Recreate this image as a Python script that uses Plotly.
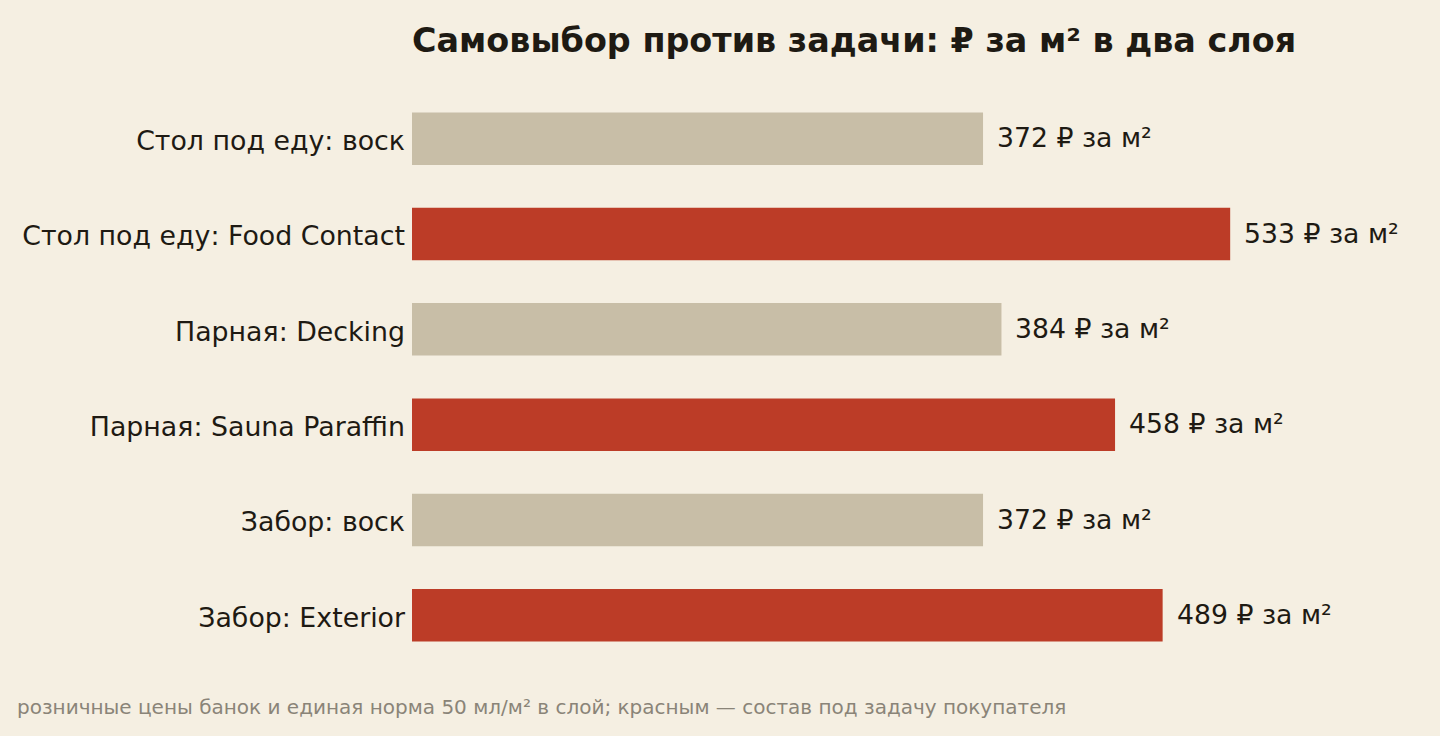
import plotly.graph_objects as go

categories = [
    "Стол под еду: воск",
    "Стол под еду: Food Contact",
    "Парная: Decking",
    "Парная: Sauna Paraffin",
    "Забор: воск",
    "Забор: Exterior",
]
prices = [372, 533, 384, 458, 372, 489]
is_task = [False, True, False, True, False, True]

title = "Самовыбор против задачи: ₽ за м² в два слоя"
note = "розничные цены банок и единая норма 50 мл/м² в слой; красным — состав под задачу покупателя"

BG = "#F5EFE2"
BEIGE = "#C8BEA7"
RED = "#BC3C27"
INK = "#1E1A13"
GREY = "#8A8478"
FONT = "DejaVu Sans"

W, H = 1440, 736
ML, MR, MT, MB = 412, 20, 91, 73
plot_w = W - ML - MR
plot_h = H - MT - MB

fig = go.Figure()
fig.add_trace(
    go.Bar(
        x=prices,
        y=categories,
        orientation="h",
        width=0.55,
        marker=dict(color=[RED if t else BEIGE for t in is_task], line=dict(width=0)),
        hoverinfo="skip",
    )
)

for cat, val in zip(categories, prices):
    fig.add_annotation(
        x=val, y=cat, text=f"{val} ₽ за м²", showarrow=False,
        xanchor="left", yanchor="middle", xshift=12, yshift=1,
        font=dict(family=FONT, size=26.7, color=INK),
    )

fig.add_annotation(
    x=(15 - ML) / plot_w, y=(-(707 - (MT + plot_h))) / plot_h,
    xref="paper", yref="paper", text=note, showarrow=False,
    xanchor="left", yanchor="middle",
    font=dict(family=FONT, size=20, color=GREY),
)

fig.update_layout(
    width=W, height=H,
    paper_bgcolor=BG, plot_bgcolor=BG,
    margin=dict(l=ML, r=MR, t=MT, b=MB),
    showlegend=False,
    title=dict(
        text=f"<b>{title}</b>", x=ML / W, xanchor="left",
        y=1 - 40 / H, yanchor="middle", yref="container",
        font=dict(family=FONT, size=33.4, color=INK),
    ),
    xaxis=dict(range=[0, max(prices) * 1.232], visible=False, fixedrange=True),
    yaxis=dict(
        autorange="reversed", showgrid=False, zeroline=False, showline=False,
        ticks="", tickfont=dict(family=FONT, size=26.8, color=INK),
        automargin=False, ticklabelstandoff=6, ticklabelshift=-2,
    ),
)

fig.write_html(
    "out.html",
    config={"displayModeBar": False},
    post_script="document.body.style.margin='0';",
)
